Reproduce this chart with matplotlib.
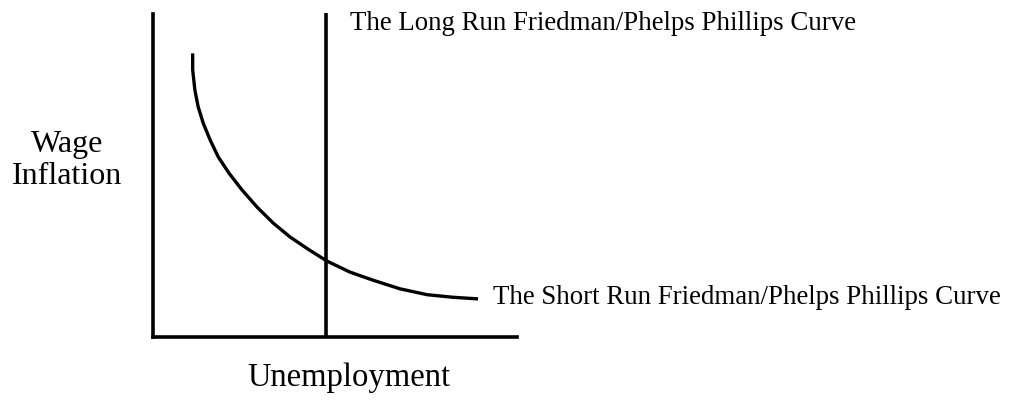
import matplotlib
matplotlib.use("Agg")
import matplotlib.pyplot as plt

# short run Phillips curve (axis units 0-10)
sr_x = [1.09, 1.09, 1.15, 1.24, 1.38, 1.57, 1.79, 2.09, 2.44, 2.86, 3.30,
        3.76, 4.26, 4.78, 5.41, 6.04, 6.79, 7.53, 8.24, 8.93]
sr_y = [8.78, 8.27, 7.65, 7.13, 6.62, 6.10, 5.58, 5.07, 4.56, 4.02, 3.53,
        3.10, 2.72, 2.35, 2.01, 1.76, 1.49, 1.31, 1.23, 1.18]

# long run (vertical) curve at the natural rate
lr_x = [4.75, 4.75]
lr_y = [0.0, 10.03]

lr_label = "The Long Run Friedman/Phelps Phillips Curve"
sr_label = "The Short Run Friedman/Phelps Phillips Curve"
x_label = "Unemployment"
y_label = ["Wage", "Inflation"]

plt.rcParams['font.family'] = ['Liberation Serif', 'DejaVu Serif']

fig = plt.figure(figsize=(10.16, 4.05), dpi=100)
ax = fig.add_axes([153/1016, 68/405, 364/1016, 323/405])
ax.set_xlim(0, 10)
ax.set_ylim(0, 10)

for s in ['top', 'right']:
    ax.spines[s].set_visible(False)
for s in ['left', 'bottom']:
    ax.spines[s].set_linewidth(2.6)
ax.set_xticks([])
ax.set_yticks([])

ax.plot(sr_x, sr_y, color="k", linewidth=2.4, solid_capstyle='butt',
        solid_joinstyle='round', clip_on=False)
ax.plot(lr_x, lr_y, color="k", linewidth=2.6, solid_capstyle='butt', clip_on=False)

ax.text(5.41, 9.50, lr_label, fontsize=19.4, va='baseline', ha='left')
ax.text(9.34, 1.21, sr_label, fontsize=19.4, va='center', ha='left', clip_on=False)

fig.text(349/1016, (405-386)/405, x_label, fontsize=23.5, ha='center', va='baseline')
fig.text(67/1016, (405-152)/405, y_label[0], fontsize=23, ha='center', va='baseline')
fig.text(67/1016, (405-184)/405, y_label[1], fontsize=23, ha='center', va='baseline')

fig.savefig("out.png", dpi=100)
